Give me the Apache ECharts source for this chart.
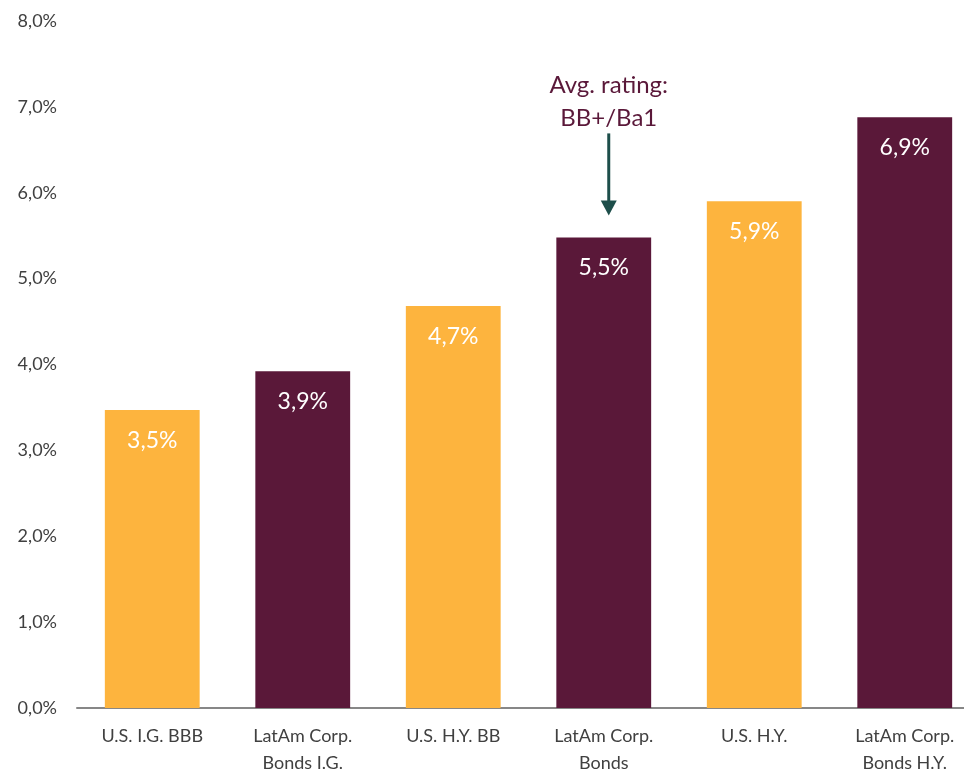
<!DOCTYPE html>
<html>
<head>
<meta charset="utf-8">
<script src="https://cdn.jsdelivr.net/npm/echarts@6/dist/echarts.min.js"></script>
<style>
  html, body { margin: 0; padding: 0; background: #fff; overflow: hidden; }
  #chart { width: 980px; height: 775px; }
</style>
</head>
<body>
<div id="chart"></div>
<script>
// Bond yields by segment (%)
const categories = ['U.S. I.G. BBB', 'LatAm Corp.\nBonds I.G.', 'U.S. H.Y. BB', 'LatAm Corp.\nBonds', 'U.S. H.Y.', 'LatAm Corp.\nBonds H.Y.'];
const yields = [3.47, 3.92, 4.68, 5.48, 5.90, 6.88];
const barColors = ['#FDB43E', '#5A1839', '#FDB43E', '#5A1839', '#FDB43E', '#5A1839'];
const noteIndex = 3;
const noteText = 'Avg. rating:\nBB+/Ba1';

const FONT = 'Lato, "Open Sans", sans-serif';
const pct = v => v.toFixed(1).replace('.', ',') + '%';

const chart = echarts.init(document.getElementById('chart'), null, { renderer: 'canvas' });

chart.setOption({
  animation: false,
  backgroundColor: '#ffffff',
  grid: { left: 77, top: 21, right: 0, height: 687, containLabel: false, outerBoundsMode: 'none' },
  xAxis: {
    type: 'category',
    data: categories,
    axisLine: { lineStyle: { color: '#878787', width: 2 } },
    axisTick: { show: false },
    axisLabel: { color: '#404040', fontFamily: FONT, fontSize: 18, lineHeight: 27, margin: 15, interval: 0 }
  },
  yAxis: {
    type: 'value',
    min: 0, max: 8, interval: 1,
    splitLine: { show: false },
    axisLine: { show: false },
    axisTick: { show: false },
    axisLabel: { color: '#404040', fontFamily: FONT, fontSize: 18, margin: 20, formatter: pct }
  },
  series: [{
    type: 'bar',
    data: yields.map((v, i) => ({ value: v, itemStyle: { color: barColors[i] } })),
    barWidth: '63%',
    label: {
      show: true,
      position: 'insideTop',
      distance: 19,
      color: '#ffffff',
      fontFamily: FONT,
      fontSize: 23,
      formatter: p => pct(p.value)
    }
  }]
});

// Callout above the highlighted bar, anchored through the axis scales
const barTop = chart.convertToPixel({ xAxisIndex: 0, yAxisIndex: 0 }, [noteIndex, yields[noteIndex]]);
const cx = barTop[0] + 5;
const tipY = barTop[1] - 22;
chart.setOption({
  graphic: [
    {
      type: 'line',
      shape: { x1: cx, y1: tipY - 82, x2: cx, y2: tipY - 12 },
      style: { stroke: '#1D4E4A', lineWidth: 3 }
    },
    {
      type: 'polygon',
      shape: { points: [[cx - 8, tipY - 15], [cx + 8, tipY - 15], [cx, tipY]] },
      style: { fill: '#1D4E4A' }
    },
    {
      type: 'text',
      x: cx, y: tipY - 81,
      style: {
        text: noteText,
        fill: '#5A1839',
        font: '24px ' + FONT,
        lineHeight: 33,
        align: 'center',
        verticalAlign: 'bottom'
      }
    }
  ]
});
</script>
</body>
</html>
